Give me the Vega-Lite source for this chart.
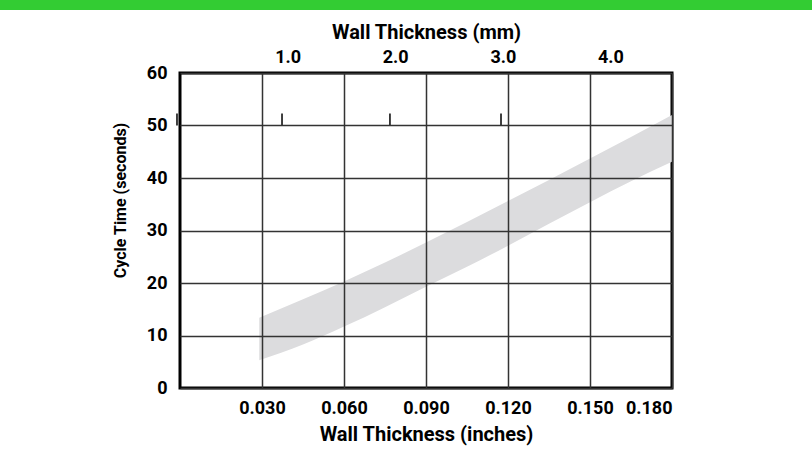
{
  "$schema": "https://vega.github.io/schema/vega-lite/v6.json",
  "padding": 0,
  "background": "white",
  "datasets": {
    "header": [{"part": "banner"}],
    "band": [
      {"in": 0.029, "lo": 5.3, "hi": 13.4},
      {"in": 0.045, "lo": 8.3, "hi": 16.9},
      {"in": 0.060, "lo": 11.7, "hi": 20.3},
      {"in": 0.075, "lo": 15.4, "hi": 23.9},
      {"in": 0.090, "lo": 19.3, "hi": 27.7},
      {"in": 0.105, "lo": 23.1, "hi": 31.6},
      {"in": 0.120, "lo": 27.1, "hi": 35.6},
      {"in": 0.135, "lo": 31.3, "hi": 39.6},
      {"in": 0.150, "lo": 35.4, "hi": 43.7},
      {"in": 0.165, "lo": 39.4, "hi": 47.8},
      {"in": 0.180, "lo": 43.1, "hi": 52.0}
    ],
    "mmticks": [
      {"mm": -0.028},
      {"mm": 0.948},
      {"mm": 1.951},
      {"mm": 2.983}
    ]
  },
  "vconcat": [
    {
      "width": 852,
      "height": 10,
      "view": {"stroke": null, "fill": "#33cc33"},
      "data": {"name": "header"},
      "mark": {"type": "rect", "color": "#33cc33"},
      "encoding": {}
    },
    {
      "width": 492,
      "height": 315,
      "view": {"stroke": "black", "strokeWidth": 3},
      "layer": [
        {
          "data": {"name": "band"},
          "mark": {"type": "area", "interpolate": "monotone", "color": "#dcdcde"},
          "encoding": {
            "x": {
              "field": "in", "type": "quantitative",
              "scale": {"domain": [0, 0.18], "nice": false},
              "axis": {
                "orient": "bottom",
                "values": [0.03, 0.06, 0.09, 0.12, 0.15, 0.18],
                "format": ".3f",
                "grid": true, "gridColor": "#333333", "gridWidth": 1.5, "gridOpacity": 1,
                "ticks": false, "domain": false,
                "labelPadding": 11,
                "title": "Wall Thickness (inches)",
                "titlePadding": 7,
                "zindex": 1
              }
            },
            "y": {
              "field": "lo", "type": "quantitative",
              "scale": {"domain": [0, 60], "nice": false},
              "axis": {
                "values": [0, 10, 20, 30, 40, 50, 60],
                "grid": true, "gridColor": "#333333", "gridWidth": 1.5, "gridOpacity": 1,
                "ticks": false, "domain": false,
                "labelPadding": 13,
                "title": "Cycle Time (seconds)",
                "titleFontSize": 16,
                "titlePadding": 18,
                "titleY": 127,
                "zindex": 1
              }
            },
            "y2": {"field": "hi"}
          }
        },
        {
          "data": {"name": "mmticks"},
          "mark": {"type": "rule", "color": "black", "strokeWidth": 1.5},
          "encoding": {
            "x": {
              "field": "mm", "type": "quantitative",
              "scale": {"domain": [0, 4.572], "nice": false, "zero": false},
              "axis": {
                "orient": "top",
                "values": [1, 2, 3, 4],
                "format": ".1f",
                "grid": false, "ticks": false, "domain": false,
                "labelPadding": 7,
                "title": "Wall Thickness (mm)",
                "titlePadding": 6
              }
            },
            "y": {"datum": 50, "type": "quantitative"},
            "y2": {"datum": 52.3}
          }
        }
      ],
      "resolve": {"scale": {"x": "independent"}, "axis": {"x": "independent"}}
    }
  ],
  "spacing": 63,
  "center": true,
  "bounds": "flush",
  "config": {
    "font": "Roboto",
    "axis": {
      "labelFont": "Roboto",
      "labelFontSize": 18,
      "labelFontWeight": "bold",
      "labelColor": "black",
      "titleFont": "Roboto",
      "titleFontSize": 20,
      "titleFontWeight": "bold",
      "titleColor": "black"
    }
  }
}
